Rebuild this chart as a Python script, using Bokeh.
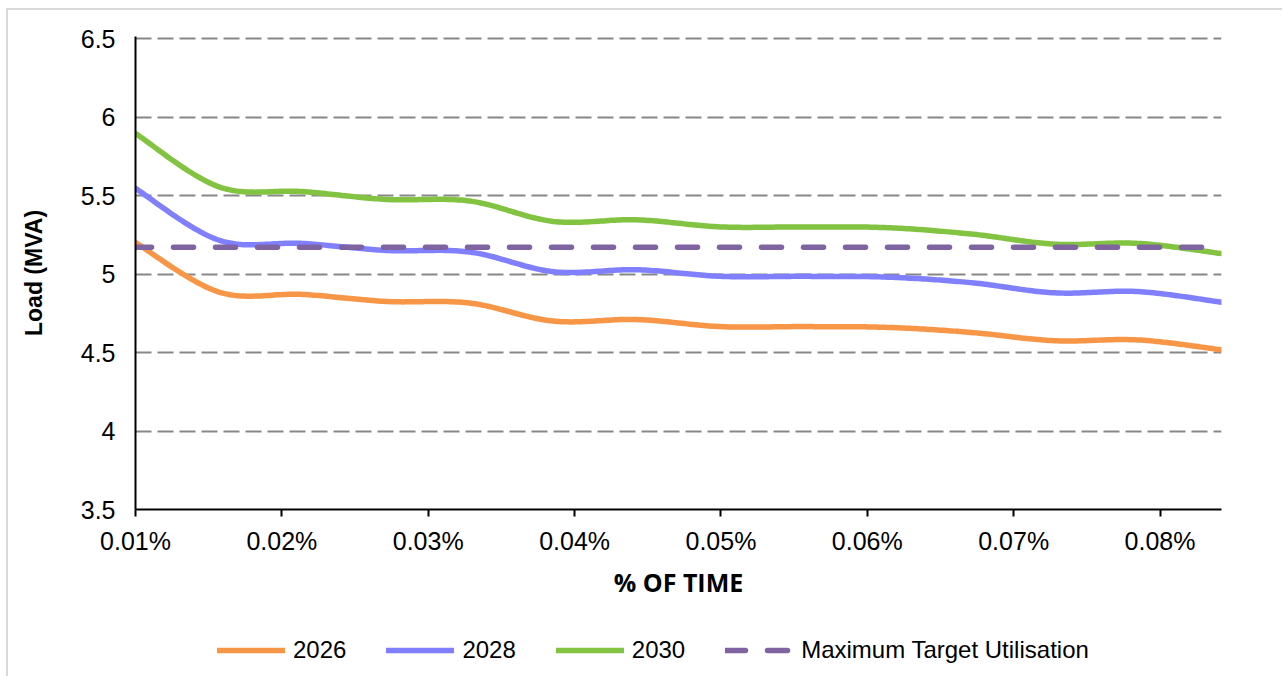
import numpy as np
from bokeh.plotting import figure
from bokeh.layouts import column
from bokeh.models import (Range1d, FixedTicker, CustomJSTickFormatter, Legend, LegendItem)
from bokeh.embed import file_html
from bokeh.resources import INLINE

# ---- data ----
pct_time = [0.01 + i * 0.005708 for i in range(14)]
load_2026 = [5.20, 4.885, 4.87, 4.825, 4.815, 4.70, 4.71, 4.665, 4.665, 4.66, 4.628, 4.575, 4.58, 4.517]
load_2028 = [5.545, 5.215, 5.195, 5.15, 5.14, 5.015, 5.027, 4.985, 4.985, 4.98, 4.945, 4.88, 4.888, 4.82]
load_2030 = [5.895, 5.555, 5.525, 5.475, 5.465, 5.335, 5.345, 5.30, 5.30, 5.295, 5.255, 5.19, 5.195, 5.13]
target = [5.17] * 14
series_names = ["2026", "2028", "2030", "Maximum Target Utilisation"]
x_ticks = [0.01, 0.02, 0.03, 0.04, 0.05, 0.06, 0.07, 0.08]
y_ticks = [3.5, 4.0, 4.5, 5.0, 5.5, 6.0, 6.5]

COLORS = ["#f79646", "#8080ff", "#82c341", "#8064a2"]
LW = 5.5
DASH = "20 22"


def smooth(xs, ys, n=30):
    """Excel-style smoothed line (cubic Bezier, tension 1/6) through the points."""
    pts = np.column_stack([xs, ys]).astype(float)
    m = len(pts)
    out = []
    for i in range(m - 1):
        p0 = pts[max(i - 1, 0)]
        p1 = pts[i]
        p2 = pts[i + 1]
        p3 = pts[min(i + 2, m - 1)]
        c1 = p1 + (p2 - p0) / 6.0
        c2 = p2 - (p3 - p1) / 6.0
        t = np.linspace(0, 1, n, endpoint=(i == m - 2))[:, None]
        seg = ((1 - t) ** 3) * p1 + 3 * ((1 - t) ** 2) * t * c1 + 3 * (1 - t) * t ** 2 * c2 + t ** 3 * p2
        out.append(seg)
    arr = np.vstack(out)
    return arr[:, 0], arr[:, 1]


TICK_FONT = "Liberation Sans"

# frame: 473 px tall, top 2 px above the 6.5 gridline so that gridline shows
p = figure(width=1274, height=600, output_backend="svg", toolbar_location=None,
           x_range=Range1d(0.01, 0.0842), y_range=Range1d(3.5, 6.5 + 2.0 / 157.0),
           min_border_left=127, min_border_right=61, min_border_top=26, min_border_bottom=101)
p.outline_line_color = None
p.background_fill_color = "white"
p.border_fill_color = "white"

# grid
p.xgrid.visible = False
p.ygrid.ticker = FixedTicker(ticks=y_ticks)
p.ygrid.grid_line_color = "#878787"
p.ygrid.grid_line_width = 2
p.ygrid.grid_line_dash = "16 6"

# x axis
xa = p.xaxis[0]
xa.ticker = FixedTicker(ticks=x_ticks)
xa.formatter = CustomJSTickFormatter(code="return tick.toFixed(2) + '%';")
xa.axis_line_color = "black"
xa.axis_line_width = 2
xa.major_tick_line_color = "black"
xa.major_tick_line_width = 2
xa.major_tick_out = 7
xa.major_tick_in = 0
xa.minor_tick_out = 0
xa.minor_tick_in = 0
xa.major_label_text_font = TICK_FONT
xa.major_label_text_font_size = "25px"
xa.major_label_text_color = "black"
xa.major_label_standoff = 10
xa.axis_label = "% OF TIME"
xa.axis_label_text_font = "Open Sans"
xa.axis_label_text_font_style = "bold"
xa.axis_label_text_font_size = "25px"
xa.axis_label_text_color = "black"
xa.axis_label_standoff = 7

# y axis
ya = p.yaxis[0]
ya.ticker = FixedTicker(ticks=y_ticks)
ya.formatter = CustomJSTickFormatter(code="return (Math.round(tick*10)/10).toString();")
ya.axis_line_color = "black"
ya.axis_line_width = 2
ya.major_tick_out = 0
ya.major_tick_in = 0
ya.minor_tick_out = 0
ya.minor_tick_in = 0
ya.major_label_text_font = TICK_FONT
ya.major_label_text_font_size = "25px"
ya.major_label_text_color = "black"
ya.major_label_standoff = 20
ya.axis_label = "Load (MVA)"
ya.axis_label_text_font = TICK_FONT
ya.axis_label_text_font_style = "bold"
ya.axis_label_text_font_size = "23px"
ya.axis_label_text_color = "black"
ya.axis_label_standoff = 31

# series
for vals, col in zip([load_2026, load_2028, load_2030], COLORS[:3]):
    sx, sy = smooth(pct_time, vals)
    p.line(sx, sy, line_color=col, line_width=LW, line_cap="round", line_join="round")
p.line(pct_time, target, line_color=COLORS[3], line_width=LW, line_cap="round",
       line_dash=DASH, line_dash_offset=4)

# legend strip (separate figure below the chart); its sample lines sit outside its view
lf = figure(width=1274, height=66, output_backend="svg", toolbar_location=None,
            x_range=Range1d(0, 1274), y_range=Range1d(0, 66),
            x_axis_type=None, y_axis_type=None, min_border=0)
lf.outline_line_color = None
lf.xgrid.visible = False
lf.ygrid.visible = False
lf.background_fill_color = "white"
lf.border_fill_color = "white"
items = []
for i, (name, col) in enumerate(zip(series_names, COLORS)):
    kw = dict(line_dash=DASH) if i == 3 else {}
    r = lf.line([-50, -40], [-50, -50], line_color=col, line_width=LW, line_cap="round", **kw)
    items.append(LegendItem(label=name, renderers=[r]))
legend = Legend(items=items, orientation="horizontal", location=(82, 12),
                glyph_width=68, glyph_height=20, label_standoff=8, spacing=40,
                padding=0, margin=0, border_line_color=None, background_fill_alpha=0,
                label_text_font=TICK_FONT, label_text_font_size="24px",
                label_text_color="black", label_height=24)
lf.add_layout(legend, "center")

layout = column(p, lf, spacing=0,
                styles={"margin-left": "6px", "margin-top": "8px",
                        "border-left": "2px solid #d9d9d9", "border-top": "2px solid #d9d9d9"})

open("out.html", "w").write(file_html(layout, INLINE))
